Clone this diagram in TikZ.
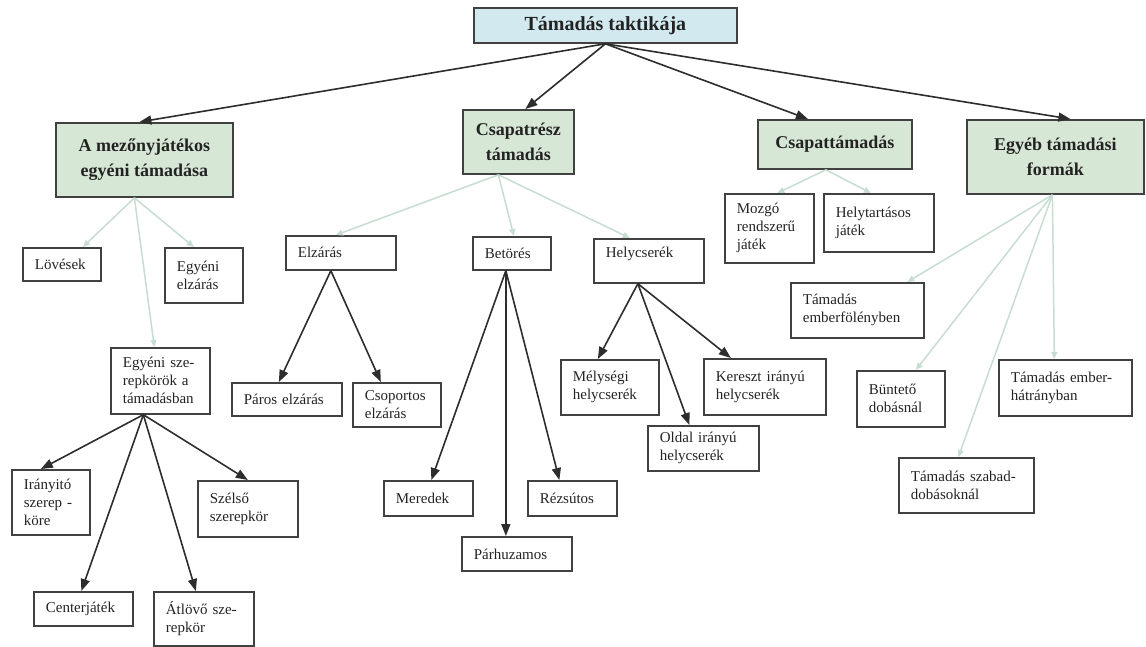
\documentclass[tikz,border=0pt]{standalone}
\usepackage{fontspec}
\setmainfont{Liberation Serif}
\usetikzlibrary{arrows.meta}
\definecolor{rootblue}{RGB}{210,233,240}
\definecolor{headgreen}{RGB}{215,231,213}
\definecolor{boxline}{RGB}{65,65,65}
\definecolor{darkarrow}{RGB}{45,45,45}
\definecolor{fadearrow}{RGB}{200,221,210}
\definecolor{inktext}{RGB}{35,35,35}

\tikzset{
  rootbox/.style 2 args={draw=boxline, fill=rootblue, line width=1.8pt, text=inktext,
    font=\fontsize{20}{24}\selectfont\bfseries, anchor=north west, inner sep=0pt,
    minimum width=#1, minimum height=#2},
  headbox/.style 2 args={draw=boxline, fill=headgreen, line width=1.8pt, text=inktext,
    font=\fontsize{18}{25}\selectfont\bfseries, align=center, anchor=north west,
    inner sep=0pt, minimum width=#1, minimum height=#2},
  leaf/.style 2 args={draw=boxline, line width=1.7pt, text=inktext,
    font=\fontsize{15}{18}\selectfont, align=left, anchor=north west,
    inner xsep=12pt, inner ysep=0pt, text width={#1-24pt}, minimum height=#2},
  strong/.style={darkarrow, line width=1.6pt, -{Triangle[length=12pt,width=9pt]}},
  faint/.style={fadearrow, line width=1.5pt, -{Triangle[length=7pt,width=6pt]}},
}

\begin{document}
\begin{tikzpicture}[x=1pt, y=-1pt]
  \useasboundingbox (0,0) rectangle (1146,646);

  % gyökér
  \node[rootbox={263pt}{35pt}] (root) at (473,7) {Támadás taktikája};

  % első szint
  \node[headbox={177pt}{74pt}] (mez) at (55,122) {A mezőnyjátékos\\egyéni támadása};
  \node[headbox={111pt}{64pt}] (csr) at (462,109) {Csapatrész\\támadás};
  \node[headbox={154pt}{49pt}] (cst) at (757,119) {Csapattámadás};
  \node[headbox={177pt}{74pt}] (egy) at (966,119) {Egyéb támadási\\formák};

  \draw[strong] (root.south) -- ([xshift=-5pt]mez.north);
  \draw[strong] (root.south) -- ([xshift=7pt]csr.north);
  \draw[strong] (root.south) -- ([xshift=-27pt]cst.north);
  \draw[strong] (root.south) -- ([xshift=15pt]egy.north);

  % mezőnyjátékos egyéni támadása
  \node[leaf={78pt}{33pt}] (lov) at (22,247) {Lövések};
  \node[leaf={78pt}{55pt}] (eel) at (164,247) {Egyéni\\elzárás};
  \node[leaf={99pt}{66pt}] (esz) at (110,347) {Egyéni sze-\\repkörök a\\támadásban};
  \draw[faint] ([xshift=-10pt]mez.south) -- ([xshift=21pt]lov.north);
  \draw[faint] ([xshift=-10pt]mez.south) -- ([xshift=-10pt]eel.north);
  \draw[faint] ([xshift=-10pt]mez.south) -- ([xshift=-6pt]esz.north);

  \node[leaf={78pt}{65pt}] (ira) at (11,469) {Irányitó\\szerep -\\köre};
  \node[leaf={100pt}{56pt}] (sze) at (197,480) {Szélső\\szerepkör};
  \node[leaf={99pt}{34pt}] (cen) at (33,591) {Centerjáték};
  \node[leaf={100pt}{54pt}] (atl) at (153,591) {Átlövő sze-\\repkör};
  \draw[strong] ([xshift=-17pt]esz.south) -- ([xshift=-10pt]ira.north);
  \draw[strong] ([xshift=-17pt]esz.south) -- (sze.north);
  \draw[strong] ([xshift=-17pt]esz.south) -- ([xshift=-2pt]cen.north);
  \draw[strong] ([xshift=-17pt]esz.south) -- ([xshift=-8pt]atl.north);

  % csapatrész támadás
  \node[leaf={110pt}{34pt}] (elz) at (285,235) {Elzárás};
  \node[leaf={78pt}{33pt}] (bet) at (472,236) {Betörés};
  \node[leaf={110pt}{44pt}, text depth=18pt] (hel) at (593,238) {Helycserék};
  \draw[faint] ([xshift=-20pt]csr.south) -- ([xshift=-5pt]elz.north);
  \draw[faint] ([xshift=-20pt]csr.south) -- ([xshift=2pt]bet.north);
  \draw[faint] ([xshift=-20pt]csr.south) -- ([xshift=-19pt]hel.north);

  \node[leaf={110pt}{33pt}] (par) at (231,382) {Páros elzárás};
  \node[leaf={88pt}{44pt}] (cso) at (352,382) {Csoportos\\elzárás};
  \draw[strong] ([xshift=-10pt]elz.south) -- ([xshift=-8pt]par.north);
  \draw[strong] ([xshift=-10pt]elz.south) -- ([xshift=-16pt]cso.north);

  \node[leaf={89pt}{35pt}] (mer) at (383,480) {Meredek};
  \node[leaf={89pt}{35pt}] (rez) at (527,480) {Rézsútos};
  \node[leaf={110pt}{34pt}] (pah) at (461,536) {Párhuzamos};
  \draw[strong] ([xshift=-6pt]bet.south) -- ([xshift=3pt]mer.north);
  \draw[strong] ([xshift=-6pt]bet.south) -- ([xshift=-13pt]rez.north);
  \draw[strong] ([xshift=-6pt]bet.south) -- ([xshift=-11pt]pah.north);

  \node[leaf={98pt}{55pt}] (mel) at (560,359) {Mélységi\\helycserék};
  \node[leaf={122pt}{56pt}] (ker) at (703,358) {Kereszt irányú\\helycserék};
  \node[leaf={111pt}{45pt}] (old) at (647,425) {Oldal irányú\\helycserék};
  \draw[strong] ([xshift=-11pt]hel.south) -- ([xshift=-12pt]mel.north);
  \draw[strong] ([xshift=-11pt]hel.south) -- ([xshift=-34pt]ker.north);
  \draw[strong] ([xshift=-11pt]hel.south) -- ([xshift=-14pt]old.north);

  % csapattámadás
  \node[leaf={89pt}{69pt}] (moz) at (724,193) {Mozgó\\rendszerű\\játék};
  \node[leaf={110pt}{58pt}] (hly) at (823,193) {Helytartásos\\játék};
  \draw[faint] ([xshift=-9pt]cst.south) -- ([xshift=8pt]moz.north);
  \draw[faint] ([xshift=-9pt]cst.south) -- ([xshift=-8pt]hly.north);

  % egyéb támadási formák
  \node[leaf={133pt}{55pt}] (emf) at (790,282) {Támadás\\emberfölényben};
  \node[leaf={88pt}{56pt}] (bun) at (856,370) {Büntető\\dobásnál};
  \node[leaf={133pt}{56pt}] (emh) at (998,359) {Támadás ember-\\hátrányban};
  \node[leaf={135pt}{55pt}] (szb) at (898,457) {Támadás szabad-\\dobásoknál};
  \draw[faint] ([xshift=-3pt]egy.south) -- ([xshift=50pt]emf.north);
  \draw[faint] ([xshift=-3pt]egy.south) -- ([xshift=15pt]bun.north);
  \draw[faint] ([xshift=-3pt]egy.south) -- ([xshift=-11pt]emh.north);
  \draw[faint] ([xshift=-3pt]egy.south) -- ([xshift=-8pt]szb.north);
\end{tikzpicture}
\end{document}
